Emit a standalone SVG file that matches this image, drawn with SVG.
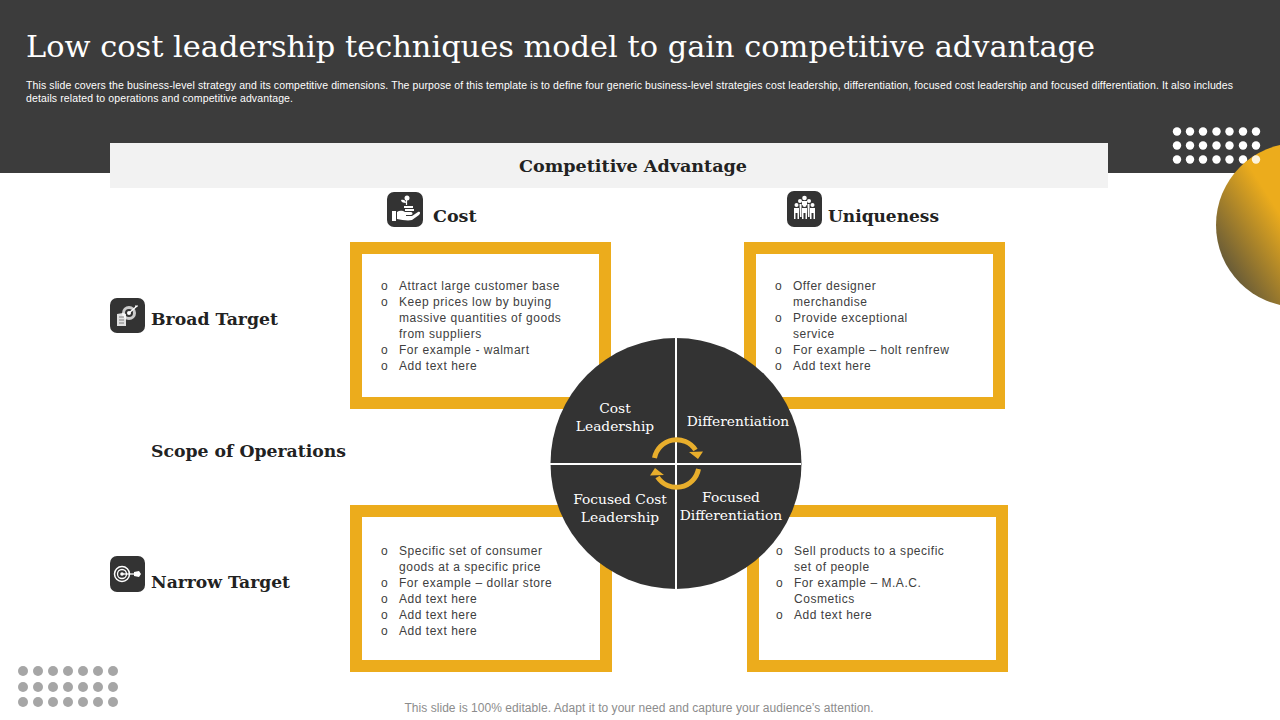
<svg xmlns="http://www.w3.org/2000/svg" width="1280" height="720" viewBox="0 0 1280 720">
<style>
.s{font-family:"DejaVu Serif","Liberation Serif",serif}
.h{font-family:"DejaVu Serif","Liberation Serif",serif;font-weight:700;font-size:17.5px;fill:#222}
.q{font-family:"DejaVu Serif","Liberation Serif",serif;font-size:13.8px;fill:#fff;text-anchor:middle}
.b{font-family:"Liberation Sans",Arial,sans-serif;font-size:12px;fill:#404040;letter-spacing:.53px}
.box{fill:#fff;stroke:#ecac1c;stroke-width:12}
.ic{fill:#333}
.w{fill:#fff}
.wl{fill:none;stroke:#fff}
.wd{fill:#fff}
.gd{fill:#a6a6a6}
</style>
<defs>
<linearGradient id="g" gradientUnits="userSpaceOnUse" x1="1222" y1="262" x2="1285" y2="222"><stop offset="0" stop-color="#665a38"/><stop offset="1" stop-color="#ecac1c"/></linearGradient>
<circle id="d" r="4.2"/><circle id="e" r="5"/>
</defs>
<rect id="header" width="1280" height="173" fill="#3c3c3c"/>
<text class="s" x="26" y="57" font-size="30" fill="#fff" textLength="1069" lengthAdjust="spacingAndGlyphs">Low cost leadership techniques model to gain competitive advantage</text>
<g font-family="'Liberation Sans',Arial,sans-serif" font-size="10.5" fill="#fff">
<text x="26" y="89" textLength="1207" lengthAdjust="spacing">This slide covers the business-level strategy and its competitive dimensions.  The purpose of this template is to define four generic business-level strategies cost leadership, differentiation, focused cost leadership and focused differentiation. It also includes</text>
<text x="26" y="102" textLength="267" lengthAdjust="spacing">details related to operations and competitive advantage.</text>
</g>
<g id="dots-top" class="wd">
<use href="#d" x="1177" y="131.5"/><use href="#d" x="1190" y="131.5"/><use href="#d" x="1203" y="131.5"/><use href="#d" x="1216.500" y="131.5"/><use href="#d" x="1229.500" y="131.5"/><use href="#d" x="1243" y="131.5"/><use href="#d" x="1256" y="131.5"/>
<use href="#d" x="1177" y="145.5"/><use href="#d" x="1190" y="145.5"/><use href="#d" x="1203" y="145.5"/><use href="#d" x="1216.500" y="145.5"/><use href="#d" x="1229.500" y="145.5"/><use href="#d" x="1243" y="145.5"/><use href="#d" x="1256" y="145.5"/>
<use href="#d" x="1177" y="159.5"/><use href="#d" x="1190" y="159.5"/><use href="#d" x="1203" y="159.5"/><use href="#d" x="1216.500" y="159.5"/><use href="#d" x="1229.500" y="159.5"/><use href="#d" x="1243" y="159.5"/>
</g>
<circle id="gold" cx="1298" cy="225" r="82" fill="url(#g)"/>
<circle cx="1256" cy="159.5" r="4.2" fill="#fff" opacity=".85"/>
<g id="dots-bottom" class="gd">
<use href="#e" x="23" y="671"/><use href="#e" x="38" y="671"/><use href="#e" x="53" y="671"/><use href="#e" x="68" y="671"/><use href="#e" x="83" y="671"/><use href="#e" x="98" y="671"/><use href="#e" x="113" y="671"/>
<use href="#e" x="23" y="687"/><use href="#e" x="38" y="687"/><use href="#e" x="53" y="687"/><use href="#e" x="68" y="687"/><use href="#e" x="83" y="687"/><use href="#e" x="98" y="687"/><use href="#e" x="113" y="687"/>
<use href="#e" x="23" y="702"/><use href="#e" x="38" y="702"/><use href="#e" x="53" y="702"/><use href="#e" x="68" y="702"/><use href="#e" x="83" y="702"/><use href="#e" x="98" y="702"/><use href="#e" x="113" y="702"/>
</g>
<g id="competitive-advantage">
<rect x="110" y="143" width="998" height="45" fill="#f2f2f2"/>
<text class="h" x="633" y="172" text-anchor="middle" textLength="228" lengthAdjust="spacingAndGlyphs">Competitive Advantage</text>
</g>
<g id="cost-head">
<rect class="ic" x="387" y="192" width="36" height="35" rx="7"/>
<path class="w" d="M392 211h4v10h-4zM397 212c3-2 6-1 8 0h6c2 0 2 3 0 3h-5v1h6l6-4c2-1 3 1 1 3l-7 5c-4 1-10 0-15-1z"/>
<circle class="w" cx="407" cy="198" r="2.500"/><path class="wl" stroke-width="1.200" d="M406.500 200v5"/><path class="w" d="M401 200c3-1 5 1 5 3-3 0-5-1-5-3zM404 206h9v2h-9zM405 209h9v2h-9z"/>
<text class="h" x="433" y="222">Cost</text>
</g>
<g id="unique-head">
<rect class="ic" x="787" y="191" width="35" height="36" rx="7"/>
<g class="w"><circle cx="804.500" cy="198" r="2.300"/><circle cx="800" cy="201" r="2"/><circle cx="809" cy="201" r="2"/><path d="M802 201h5v4h-5z"/><circle cx="796.500" cy="205" r="2"/><circle cx="804.500" cy="205" r="2"/><circle cx="812.500" cy="205" r="2"/><path d="M794 208h5v11h-1.500v-6h-2v6H794zM802 208h5v11h-1.500v-6h-2v6H802zM810 208h5v11h-1.500v-6h-2v6H810zM799.500 204h2v13h-1.500zM807.500 204h2v13H808z"/></g>
<text class="h" x="828" y="222" textLength="111" lengthAdjust="spacingAndGlyphs">Uniqueness</text>
</g>
<g id="broad-target">
<rect class="ic" x="110" y="298" width="35" height="35" rx="7"/>
<circle cx="129" cy="313" r="7" class="w" opacity=".75"/><circle cx="129" cy="313" r="4" class="ic"/><circle cx="129" cy="313" r="2" class="w"/><path class="wl" stroke-width="1.200" d="M129 313l8-7M135 306h3"/>
<path class="w" d="M117 314l6-1 3 1v12h-9z" opacity=".85"/><path d="M119 317h5M119 320h5M119 323h5" stroke="#666" stroke-width=".8"/>
<text class="h" x="151" y="325" textLength="127" lengthAdjust="spacingAndGlyphs">Broad Target</text>
</g>
<g id="scope"><text class="h" x="151" y="457" textLength="195" lengthAdjust="spacingAndGlyphs">Scope of Operations</text></g>
<g id="narrow-target">
<rect class="ic" x="110" y="556" width="35" height="36" rx="7"/>
<circle cx="122" cy="574" r="7.500" class="wl" stroke-width="1.500"/><circle cx="122" cy="574" r="4.500" class="wl" stroke-width="1.300"/><circle cx="122" cy="574" r="1.800" class="w"/>
<path class="wl" stroke-width="1.300" d="M122 574h13"/><path class="w" d="M134 572l5-1 2 3-2 3-5-1z"/>
<text class="h" x="151" y="588" textLength="139" lengthAdjust="spacingAndGlyphs">Narrow Target</text>
</g>
<g id="box-tl">
<rect class="box" x="356" y="248" width="249" height="155"/>
<g class="b"><text x="381" y="290">o</text><text x="381" y="306">o</text><text x="381" y="354">o</text><text x="381" y="370">o</text><text x="399" y="290">Attract large customer base</text><text x="399" y="306">Keep prices low by buying</text><text x="399" y="322">massive quantities of goods</text><text x="399" y="338">from suppliers</text><text x="399" y="354">For example - walmart</text><text x="399" y="370">Add text here</text></g>
</g>
<g id="box-tr">
<rect class="box" x="750" y="248" width="249" height="155"/>
<g class="b"><text x="775" y="290">o</text><text x="775" y="322">o</text><text x="775" y="354">o</text><text x="775" y="370">o</text><text x="793" y="290">Offer  designer</text><text x="793" y="306">merchandise</text><text x="793" y="322">Provide  exceptional</text><text x="793" y="338">service</text><text x="793" y="354">For example – holt renfrew</text><text x="793" y="370">Add text here</text></g>
</g>
<g id="box-bl">
<rect class="box" x="356" y="511" width="250" height="155"/>
<g class="b"><text x="381" y="555">o</text><text x="381" y="587">o</text><text x="381" y="603">o</text><text x="381" y="619">o</text><text x="381" y="635">o</text><text x="399" y="555">Specific set of consumer</text><text x="399" y="571">goods at a specific price</text><text x="399" y="587">For example – dollar store</text><text x="399" y="603">Add text here</text><text x="399" y="619">Add text here</text><text x="399" y="635">Add text here</text></g>
</g>
<g id="box-br">
<rect class="box" x="753" y="511" width="249" height="155"/>
<g class="b"><text x="776" y="555">o</text><text x="776" y="587">o</text><text x="776" y="619">o</text><text x="794" y="555">Sell products to a specific</text><text x="794" y="571">set of people</text><text x="794" y="587">For example – M.A.C.</text><text x="794" y="603">Cosmetics</text><text x="794" y="619">Add text here</text></g>
</g>
<g id="center">
<circle cx="676" cy="463.500" r="125.500" fill="#333"/>
<path d="M676 338v251M550 464h251" stroke="#fff" stroke-width="2" fill="none"/>
<text class="q" x="615" y="413">Cost</text><text class="q" x="615" y="431">Leadership</text>
<text class="q" x="738" y="426">Differentiation</text>
<text class="q" x="620" y="504">Focused Cost</text><text class="q" x="620" y="522">Leadership</text>
<text class="q" x="731" y="502">Focused</text><text class="q" x="731" y="520">Differentiation</text>
<g id="cycle" fill="none" stroke="#e8ae2c" stroke-width="5">
<path d="M654.500 458a22.500 22.500 0 0 1 41-8"/><path d="M698.500 469a22.500 22.500 0 0 1-41 8"/>
</g>
<path d="M703 451.500l-5 7.500-9-7zM650 475.500l5-7.500 9 7z" fill="#e8ae2c"/>
</g>
<text id="footer" x="639" y="712" text-anchor="middle" font-family="'Liberation Sans',Arial,sans-serif" font-size="12" fill="#8c8c8c" textLength="469" lengthAdjust="spacing">This slide is 100% editable. Adapt it to your need and capture your audience’s attention.</text>
</svg>
